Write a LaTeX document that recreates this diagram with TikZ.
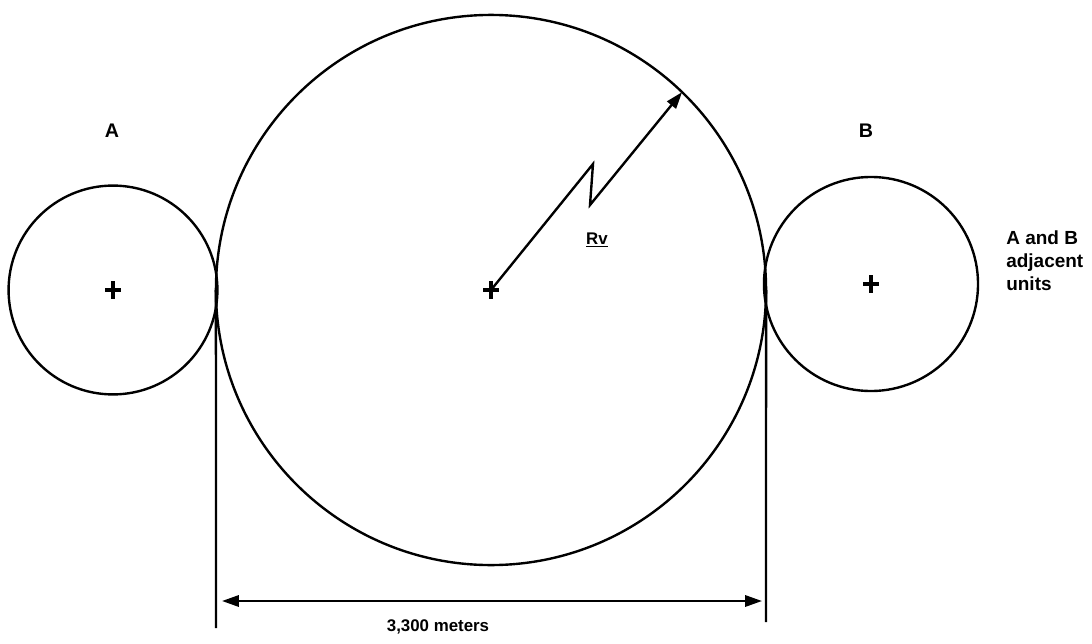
\documentclass[tikz,border=0pt]{standalone}
\usepackage{fontspec}
\setmainfont{Liberation Sans}
\usetikzlibrary{positioning, arrows.meta}

\begin{document}
\begin{tikzpicture}[x=0.025cm, y=-0.025cm,
        ring/.style={draw, circle, line width=1.7pt, inner sep=0pt, outer sep=0pt},
        tag/.style={font=\bfseries\fontsize{12}{16.5}\selectfont, inner sep=0pt},
        bigtag/.style={font=\bfseries\fontsize{14}{16}\selectfont, inner sep=0pt},
        notetag/.style={font=\bfseries\fontsize{13.5}{16.5}\selectfont, inner sep=0pt},
        thin line/.style={line width=1.7pt},
        tip/.style={-{Triangle[length=0.42cm, width=0.28cm]}}
    ]
        \useasboundingbox (0,0) rectangle (1092,644);

        % units
        \node[ring, minimum size=13.75cm] (big) at (491,290) {};
        \node[ring, minimum size=5.22cm] (A) at (113,290) {};
        \node[ring, minimum size=5.35cm] (B) at (871,284) {};

        % centre marks
        \foreach \u in {A, big, B}
            \draw[line width=2.2pt] (\u.center) +(-8,0) -- +(8,0) (\u.center) +(0,-9) -- +(0,9);

        % radius
        \coordinate (zigtop) at (593,164);
        \coordinate (zigbot) at (590,205);
        \draw[thin line, tip, line join=miter] (big.center) -- (zigtop) -- (zigbot) -- (big.46);
        \node[tag] (rv) at (597,240) {\underline{Rv}};

        % dimension
        \coordinate (leftfoot) at (216,628);
        \coordinate (rightfoot) at (766,622);
        \draw[thin line] (big.west) -- (leftfoot);
        \draw[thin line] (big.east) -- (rightfoot);
        \coordinate (dimL) at (222,601);
        \coordinate (dimR) at (762,601);
        \draw[thin line, {Triangle[length=0.42cm, width=0.28cm]}-{Triangle[length=0.42cm, width=0.28cm]}] (dimL) -- (dimR);
        \node[tag] (dist) at (438,627) {3,300 meters};

        % labels
        \node[bigtag] (labA) at (112,131) {A};
        \node[bigtag] (labB) at (866,131) {B};
        \node[notetag, align=left, anchor=north west] (note) at (1006,230) {A and B\\adjacent\\units};
    \end{tikzpicture}
\end{document}
